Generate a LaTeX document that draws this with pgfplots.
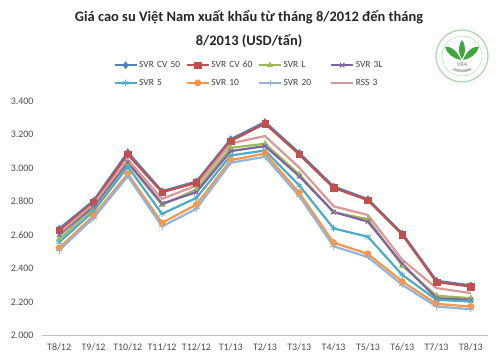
\documentclass[border=0pt]{standalone}
\usepackage{pgfplots}
\pgfplotsset{compat=1.18}
\usepackage{fontspec}
\setmainfont{Carlito}
\definecolor{cvA}{HTML}{4F81BD}
\definecolor{cvB}{HTML}{C0504D}
\definecolor{svrL}{HTML}{9BBB59}
\definecolor{svrTL}{HTML}{8064A2}
\definecolor{svrF}{HTML}{4BACC6}
\definecolor{svrT}{HTML}{F79646}
\definecolor{svrTw}{HTML}{95B3D7}
\definecolor{rss}{HTML}{DA9896}
\definecolor{logog}{HTML}{3FA63F}
\begin{document}
\begin{tikzpicture}[x=1bp,y=1bp]
\useasboundingbox (-42,-26.3) rectangle (458,335.7);
\begin{axis}[
  scale only axis, width=446bp, height=234.7bp,
  xmin=-0.5, xmax=12.5, ymin=2000, ymax=3400,
  xtick={0,...,12},
  xticklabels={T8/12,T9/12,T10/12,T11/12,T12/12,T1/13,T2/13,T3/13,T4/13,T5/13,T6/13,T7/13,T8/13},
  ytick={2000,2200,...,3400},
  scaled y ticks=false,
  yticklabel style={xshift=-5bp, /pgf/number format/.cd, fixed, precision=0, 1000 sep={.}, assume math mode=true},
  xticklabel style={yshift=-4bp},
  ticklabel style={font=\fontsize{10}{11}\selectfont, text=black!70},
  axis lines*=left,
  axis line style={-},
  y axis line style={draw=none},
  x axis line style={draw=black!25, line width=0.8bp},
  major tick length=0pt,
  tick style={draw=none},
  legend columns=4,
  legend style={draw=none, fill=none, font=\fontsize{9.5}{10}\selectfont, text=black!75,
    at={(axis description cs:0.484,1.115)}, anchor=center,
    nodes={text width=45bp, inner xsep=1.5bp, align=left}, /tikz/every odd column/.append style={column sep=0pt},
    row sep=6bp},
  legend image code/.code={\draw[mark repeat=2,mark phase=2] plot coordinates {(0bp,0bp)(11bp,0bp)(22bp,0bp)};},
  every axis plot/.append style={line width=2.2bp},
]
\addplot[cvA, mark=diamond*, mark size=3.5bp, mark options={line width=0.5bp}] coordinates {
(0,2638)(1,2805)(2,3095)(3,2862)(4,2920)(5,3172)(6,3275)(7,3090)(8,2890)(9,2815)(10,2610)(11,2328)(12,2300)};
\addplot[cvB, mark=square*, mark size=3.2bp, mark options={line width=0.5bp}] coordinates {
(0,2628)(1,2796)(2,3081)(3,2856)(4,2912)(5,3161)(6,3265)(7,3081)(8,2882)(9,2808)(10,2603)(11,2320)(12,2293)};
\addplot[svrL, mark=triangle*, mark size=3.2bp, mark options={line width=0.5bp}] coordinates {
(0,2577)(1,2762)(2,3030)(3,2780)(4,2872)(5,3121)(6,3145)(7,2962)(8,2736)(9,2695)(10,2417)(11,2238)(12,2224)};
\addplot[svrTL, mark=x, mark size=3.2bp, mark options={line width=1bp}] coordinates {
(0,2602)(1,2772)(2,3035)(3,2788)(4,2856)(5,3101)(6,3131)(7,2951)(8,2738)(9,2680)(10,2429)(11,2224)(12,2214)};
\addplot[svrF, mark=asterisk, mark size=3.2bp, mark options={line width=0.8bp}] coordinates {
(0,2557)(1,2742)(2,3008)(3,2727)(4,2822)(5,3075)(6,3105)(7,2896)(8,2640)(9,2590)(10,2363)(11,2214)(12,2204)};
\addplot[svrT, mark=*, mark size=3.2bp, mark options={line width=0.5bp}] coordinates {
(0,2523)(1,2716)(2,2966)(3,2673)(4,2782)(5,3047)(6,3087)(7,2852)(8,2555)(9,2488)(10,2323)(11,2190)(12,2174)};
\addplot[svrTw, mark=+, mark size=3.2bp, mark options={line width=0.8bp}] coordinates {
(0,2509)(1,2702)(2,2951)(3,2652)(4,2757)(5,3032)(6,3067)(7,2832)(8,2533)(9,2469)(10,2303)(11,2174)(12,2158)};
\addplot[rss] coordinates {
(0,2612)(1,2785)(2,3051)(3,2816)(4,2896)(5,3147)(6,3191)(7,3002)(8,2772)(9,2720)(10,2453)(11,2284)(12,2254)};
\legend{SVR CV 50,SVR CV 60,SVR L,SVR 3L,SVR 5,SVR 10,SVR 20,RSS 3}
\end{axis}
\node[font=\bfseries\fontsize{14.5}{16}\selectfont, text=black!85] at (207,318.7) {Giá cao su Việt Nam xuất khẩu từ tháng 8/2012 đến tháng};
\node[font=\bfseries\fontsize{14.5}{16}\selectfont, text=black!85] at (207,294.7) {8/2013 (USD/tấn)};
% logo
\begin{scope}[shift={(420,279.7)}]
\draw[logog!45, line width=1.2bp] (0,0) circle (26);
\draw[logog!35, line width=0.6bp] (0,0) circle (20);
\fill[logog] (0,-3) .. controls (-5,5) and (-3,12) .. (0,16) .. controls (3,12) and (5,5) .. (0,-3);
\fill[logog] (-1,-4) .. controls (-6,8) and (-14,10) .. (-17,9) .. controls (-15,2) and (-8,-3) .. (-1,-4);
\fill[logog] (1,-4) .. controls (6,8) and (14,10) .. (17,9) .. controls (15,2) and (8,-3) .. (1,-4);
\node[font=\itshape\fontsize{6}{6}\selectfont, text=black!55] at (0,-9) {VRA};
\fill[black!25] (-10,-14) .. controls (-4,-17) and (4,-17) .. (10,-14) -- (8,-12) .. controls (3,-14) and (-3,-14) .. (-8,-12) -- cycle;
\end{scope}
\end{tikzpicture}
\end{document}
